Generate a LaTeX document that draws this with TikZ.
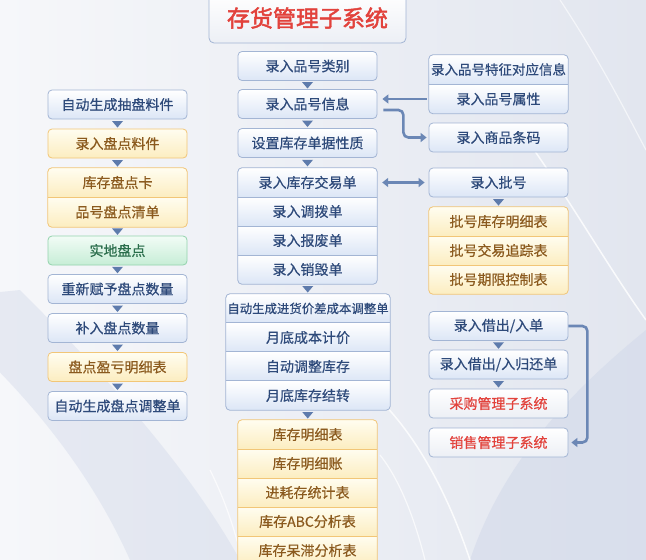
\documentclass[tikz,border=0pt]{standalone}
\usepackage{fontspec}
\newfontfamily\cjk{Noto Sans CJK SC}[FakeBold=0.5]
\newfontfamily\cjkt{Noto Sans CJK SC}[FakeBold=2]
\usetikzlibrary{arrows.meta,calc}
\definecolor{bline}{HTML}{A3B5D4}
\definecolor{bfill}{HTML}{DCE6F6}
\definecolor{btext}{HTML}{2E4A7A}
\definecolor{oline}{HTML}{F2C677}
\definecolor{otop}{HTML}{FFFDF0}
\definecolor{ofill}{HTML}{FCEDC0}
\definecolor{otext}{HTML}{8B5A1E}
\definecolor{gline}{HTML}{93D3AD}
\definecolor{gtop}{HTML}{F2FCF6}
\definecolor{gfill}{HTML}{C6EDD6}
\definecolor{gtext}{HTML}{2B6E4C}
\definecolor{wfill}{HTML}{ECEFF5}
\definecolor{rtext}{HTML}{E2423C}
\definecolor{conn}{HTML}{6B87B5}
\definecolor{tri}{HTML}{5E7BAC}
\definecolor{bgl}{HTML}{F6F7FA}
\definecolor{bgr}{HTML}{E2E6EF}
\definecolor{band}{HTML}{D3DAEA}
\tikzset{
  cell/.style={minimum width=139pt, minimum height=29pt, inner sep=0pt,
    font=\cjk\fontsize{14}{16}\selectfont},
  bluebox/.style={cell, draw=bline, line width=0.8pt, rounded corners=4pt,
    top color=white, bottom color=bfill, text=btext},
  orangebox/.style={cell, draw=oline, line width=0.8pt, rounded corners=4pt,
    top color=otop, bottom color=ofill, text=otext},
  greenbox/.style={cell, draw=gline, line width=0.8pt, rounded corners=4pt,
    top color=gtop, bottom color=gfill, text=gtext},
  redbox/.style={cell, draw=bline, line width=0.8pt, rounded corners=4pt,
    top color=white, bottom color=wfill, text=rtext},
  bluerow/.style={cell, top color=white, bottom color=bfill, text=btext},
  orangerow/.style={cell, top color=otop, bottom color=ofill, text=otext},
  bframe/.style={draw=bline, line width=0.8pt, rounded corners=4pt},
  oframe/.style={draw=oline, line width=0.8pt, rounded corners=4pt},
  bsep/.style={draw=bline, line width=0.8pt},
  osep/.style={draw=oline, line width=0.8pt},
  link/.style={draw=conn, line width=2.6pt, rounded corners=5pt,
    -{Triangle[length=6pt,width=9pt]}},
  dlink/.style={draw=conn, line width=2.4pt,
    {Triangle[length=6pt,width=9pt]}-{Triangle[length=6pt,width=9pt]}},
}
\newcommand\downtri[2]{%
  \fill[tri] ($(#1.south)!0.5!(#2.north)$) ++(-5.5,-3) -- ++(11,0) -- ++(-5.5,6.5) -- cycle;}
\begin{document}
\begin{tikzpicture}[x=1pt,y=-1pt]
\useasboundingbox (0,0) rectangle (646,560);
\clip (0,0) rectangle (646,560);
% background
\fill[left color=bgl, right color=bgr] (0,0) rectangle (646,560);
\fill[band, opacity=0.45] (-80,300) .. controls (20,380) and (90,470) .. (130,560)
  -- (240,560) .. controls (190,470) and (110,380) .. (20,290) -- cycle;
\fill[band, opacity=0.6] (646,330) .. controls (560,400) and (500,470) .. (470,560)
  -- (646,560) -- cycle;
\draw[white, line width=1.5pt, opacity=0.8] (527,140) .. controls (570,200) and (610,270) .. (646,320);
\draw[white, line width=1.5pt, opacity=0.8] (380,400) .. controls (420,440) and (450,500) .. (470,560);
\draw[white, line width=1.2pt, opacity=0.7] (380,455) .. controls (400,480) and (415,520) .. (425,560);
\draw[white, line width=1.2pt, opacity=0.7] (210,470) .. controls (225,500) and (235,530) .. (242,560);
\draw[white, line width=1.2pt, opacity=0.6] (560,0) .. controls (600,60) and (630,120) .. (646,150);
% title
\node[draw=bline, line width=0.8pt, rounded corners=5pt, top color=white, bottom color=wfill,
  minimum width=197pt, minimum height=50pt, inner sep=0pt, text=rtext,
  font=\cjkt\fontsize{23}{25}\selectfont] (title) at (307.5,18) {\raisebox{-5pt}{存货管理子系统}};
% middle column
\node[bluebox] (m1) at (307.5,66) {录入品号类别};
\node[bluebox] (m2) at (307.5,104) {录入品号信息};
\node[bluebox] (m3) at (307.5,143) {设置库存单据性质};
\begin{scope}
\clip[rounded corners=4pt] (238,168) rectangle (377,284);
\node[bluerow] (g1a) at (307.5,182.5) {录入库存交易单};
\node[bluerow] (g1b) at (307.5,211.5) {录入调拨单};
\node[bluerow] (g1c) at (307.5,240.5) {录入报废单};
\node[bluerow] (g1d) at (307.5,269.5) {录入销毁单};
\end{scope}
\draw[bframe] (g1a.north west) rectangle (g1d.south east);
\foreach \r in {g1a,g1b,g1c} \draw[bsep] (\r.south west) -- (\r.south east);
\begin{scope}
\clip[rounded corners=4pt] (226,294) rectangle (390,410);
\node[bluerow, minimum width=164pt, font=\cjk\fontsize{12.4}{14}\selectfont] (g2a) at (308,308.5) {自动生成进货价差成本调整单};
\node[bluerow, minimum width=164pt] (g2b) at (308,337.5) {月底成本计价};
\node[bluerow, minimum width=164pt] (g2c) at (308,366.5) {自动调整库存};
\node[bluerow, minimum width=164pt] (g2d) at (308,395.5) {月底库存结转};
\end{scope}
\draw[bframe] (g2b.west |- g2a.north) rectangle (g2d.south east);
\foreach \r in {g2b,g2c} \draw[bsep] (\r.north west) -- (\r.north east);
\draw[bsep] (g2d.north west) -- (g2d.north east);
\begin{scope}
\clip[rounded corners=4pt] (238,420) rectangle (377,565);
\node[orangerow] (g3a) at (307.5,434.5) {库存明细表};
\node[orangerow] (g3b) at (307.5,463.5) {库存明细账};
\node[orangerow] (g3c) at (307.5,492.5) {进耗存统计表};
\node[orangerow] (g3d) at (307.5,521.5) {库存ABC分析表};
\node[orangerow] (g3e) at (307.5,550.5) {库存呆滞分析表};
\end{scope}
\draw[oframe] (g3a.north west) rectangle (g3e.south east);
\foreach \r in {g3a,g3b,g3c,g3d} \draw[osep] (\r.south west) -- (\r.south east);
\downtri{m1}{m2}
\downtri{m2}{m3}
\downtri{m3}{g1a}
\downtri{g1d}{g2a}
\downtri{g2d}{g3a}
% left column
\node[bluebox] (l1) at (117.5,104.5) {自动生成抽盘料件};
\node[orangebox] (l2) at (117.5,143.5) {录入盘点料件};
\begin{scope}
\clip[rounded corners=4pt] (48,168) rectangle (187,227);
\node[orangerow] (lga) at (117.5,182.5) {库存盘点卡};
\node[orangerow, minimum height=30pt] (lgb) at (117.5,212) {品号盘点清单};
\end{scope}
\draw[oframe] (lga.north west) rectangle (lgb.south east);
\draw[osep] (lga.south west) -- (lga.south east);
\node[greenbox] (l4) at (117.5,250.5) {实地盘点};
\node[bluebox] (l5) at (117.5,289) {重新赋予盘点数量};
\node[bluebox] (l6) at (117.5,328) {补入盘点数量};
\node[orangebox] (l7) at (117.5,367) {盘点盈亏明细表};
\node[bluebox] (l8) at (117.5,406) {自动生成盘点调整单};
\downtri{l1}{l2}
\downtri{l2}{lga}
\downtri{lgb}{l4}
\downtri{l4}{l5}
\downtri{l5}{l6}
\downtri{l6}{l7}
\downtri{l7}{l8}
% right column
\begin{scope}
\clip[rounded corners=4pt] (429,55) rectangle (568,114);
\node[bluerow, font=\cjk\fontsize{13.5}{15}\selectfont] (rga) at (498.5,69.5) {录入品号特征对应信息};
\node[bluerow] (rgb) at (498.5,99) {录入品号属性};
\end{scope}
\draw[bframe] (rga.north west) rectangle (rgb.south east);
\draw[bsep] (rga.south west) -- (rga.south east);
\node[bluebox] (r2) at (498.5,137.5) {录入商品条码};
\node[bluebox] (r3) at (498.5,182.5) {录入批号};
\begin{scope}
\clip[rounded corners=4pt] (429,207) rectangle (568,294);
\node[orangerow] (rha) at (498.5,221.5) {批号库存明细表};
\node[orangerow] (rhb) at (498.5,250.5) {批号交易追踪表};
\node[orangerow] (rhc) at (498.5,279.5) {批号期限控制表};
\end{scope}
\draw[oframe] (rha.north west) rectangle (rhc.south east);
\foreach \r in {rha,rhb} \draw[osep] (\r.south west) -- (\r.south east);
\node[bluebox] (r5) at (498.5,326) {录入借出/入单};
\node[bluebox] (r6) at (498.5,364.5) {录入借出/入归还单};
\node[redbox] (r7) at (498.5,403.5) {采购管理子系统};
\node[redbox] (r8) at (498.5,442.5) {销售管理子系统};
\downtri{r3}{rha}
\downtri{r5}{r6}
\downtri{r6}{r7}
% connectors
\draw[link, shorten <=2pt, shorten >=5pt] (rgb.west) -- (rgb.west -| m2.east);
\draw[link, shorten >=2pt] ([xshift=6pt,yshift=-6pt]m2.east) -- ++(20,0) |- (r2.west);
\draw[dlink, shorten <=5pt, shorten >=4pt] (g1a.east) -- (r3.west);
\draw[link, shorten >=3pt] (r5.east) -- ++(19,0) |- (r8.east);
\end{tikzpicture}
\end{document}
